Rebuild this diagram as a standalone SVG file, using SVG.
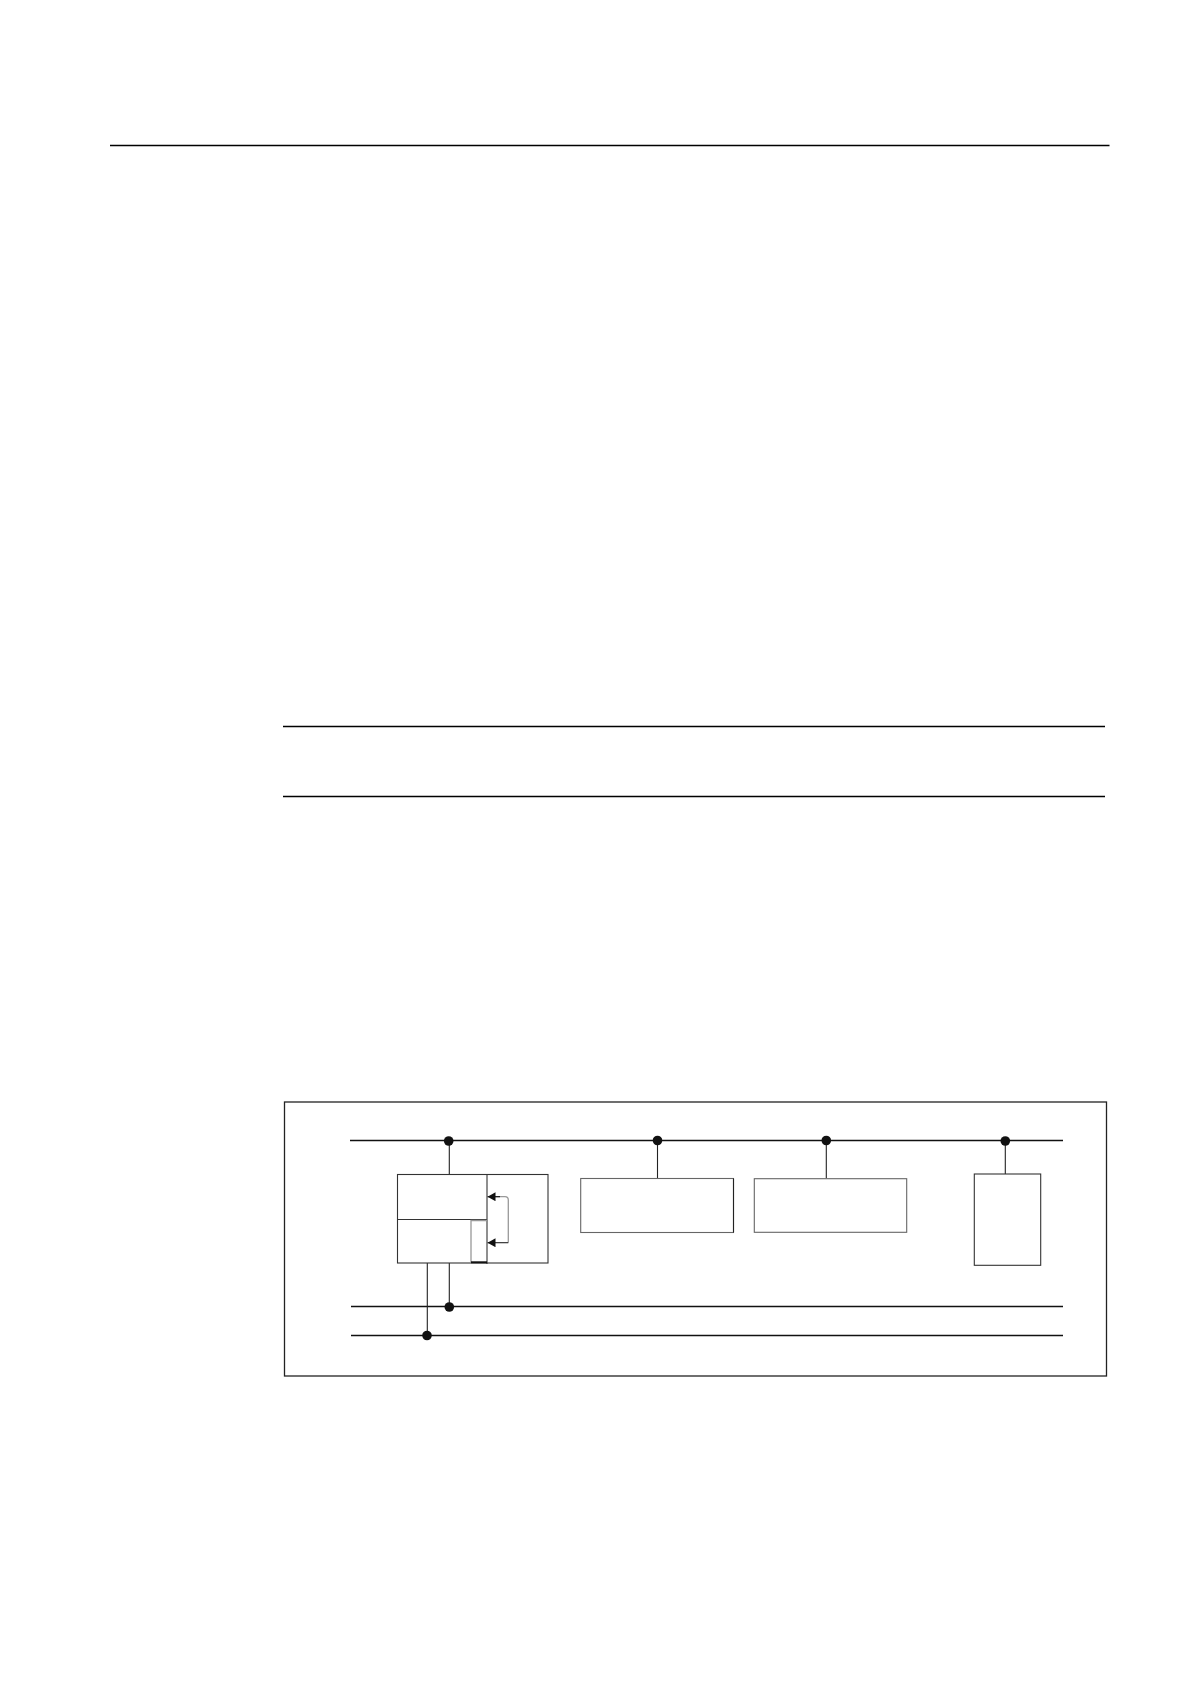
<svg xmlns="http://www.w3.org/2000/svg" width="1190" height="1684" viewBox="0 0 1190 1684">
<defs>
<style>
.rule{stroke:#000;stroke-width:1.4;fill:none}
.bus{stroke:#111;stroke-width:1.3;fill:none}
.box{stroke:#333;stroke-width:1.1;fill:#fff}
.boxg{stroke:#666;stroke-width:1.1;fill:#fff}
.wire{stroke:#222;stroke-width:1.1;fill:none}
.gray{stroke:#999;stroke-width:1.3;fill:none}
.dot{fill:#111}
</style>
<marker id="ah" viewBox="0 0 10 10" refX="10" refY="5" markerWidth="8" markerHeight="9" markerUnits="userSpaceOnUse" orient="auto" preserveAspectRatio="none">
<path d="M0,0 L10,5 L0,10 Z" fill="#111"/>
</marker>
</defs>
<rect width="1190" height="1684" fill="#fff"/>
<g id="rules">
<line class="rule" x1="110" y1="145.5" x2="1109.5" y2="145.5"/>
<line class="rule" x1="283" y1="726.5" x2="1105" y2="726.5"/>
<line class="rule" x1="283" y1="796.5" x2="1105" y2="796.5"/>
</g>
<g id="frame">
<rect x="284.5" y="1102" width="822" height="274" fill="none" stroke="#222" stroke-width="1.3"/>
</g>
<g id="connectors">
<line class="bus" x1="350" y1="1140.5" x2="1063" y2="1140.5"/>
<line class="bus" x1="351" y1="1306.5" x2="1063" y2="1306.5"/>
<line class="bus" x1="351" y1="1335.5" x2="1063" y2="1335.5"/>
<line class="wire" x1="449.3" y1="1140.5" x2="449.3" y2="1174.5"/>
<line class="wire" x1="657.5" y1="1140.5" x2="657.5" y2="1178.5"/>
<line class="wire" x1="826.3" y1="1140.5" x2="826.3" y2="1178.5"/>
<line class="wire" x1="1005.3" y1="1140.5" x2="1005.3" y2="1174.5"/>
<line class="wire" x1="427.3" y1="1263" x2="427.3" y2="1335.5"/>
<line class="wire" x1="449.3" y1="1263" x2="449.3" y2="1306.5"/>
<circle class="dot" cx="448.7" cy="1141" r="4.8"/>
<circle class="dot" cx="657.5" cy="1140.5" r="4.8"/>
<circle class="dot" cx="826.3" cy="1140.5" r="4.8"/>
<circle class="dot" cx="1005.3" cy="1141" r="4.8"/>
<circle class="dot" cx="449.3" cy="1307" r="4.8"/>
<circle class="dot" cx="427" cy="1335.5" r="4.8"/>
</g>
<g id="node-cpu">
<rect class="box" x="397.5" y="1174.5" width="150.5" height="88.5"/>
<line class="box" x1="487" y1="1174.5" x2="487" y2="1264"/>
<line class="box" x1="397.5" y1="1219.5" x2="487" y2="1219.5"/>
<path d="M487,1220.5 H471 V1262.5" fill="none" stroke="#999" stroke-width="1.3"/>
<line x1="471" y1="1262.3" x2="487" y2="1262.3" stroke="#111" stroke-width="2"/>
<path class="gray" d="M494,1196.7 H505 Q508.3,1196.7 508.3,1200 V1242.5"/>
<line class="wire" x1="508.3" y1="1242.7" x2="487.5" y2="1242.7" marker-end="url(#ah)"/>
<line x1="500" y1="1196.7" x2="487.5" y2="1196.7" stroke="#111" stroke-width="1.1" marker-end="url(#ah)"/>
</g>
<g id="node-2">
<rect class="boxg" x="580.7" y="1178.5" width="152.8" height="54"/>
<path d="M733.5,1178.5 V1232.5" stroke="#222" stroke-width="1.1"/>
</g>
<g id="node-3">
<rect class="boxg" x="754.3" y="1178.7" width="152.4" height="53.6"/>
</g>
<g id="node-4">
<rect class="box" x="974.3" y="1174" width="66.4" height="91.3"/>
</g>
</svg>
